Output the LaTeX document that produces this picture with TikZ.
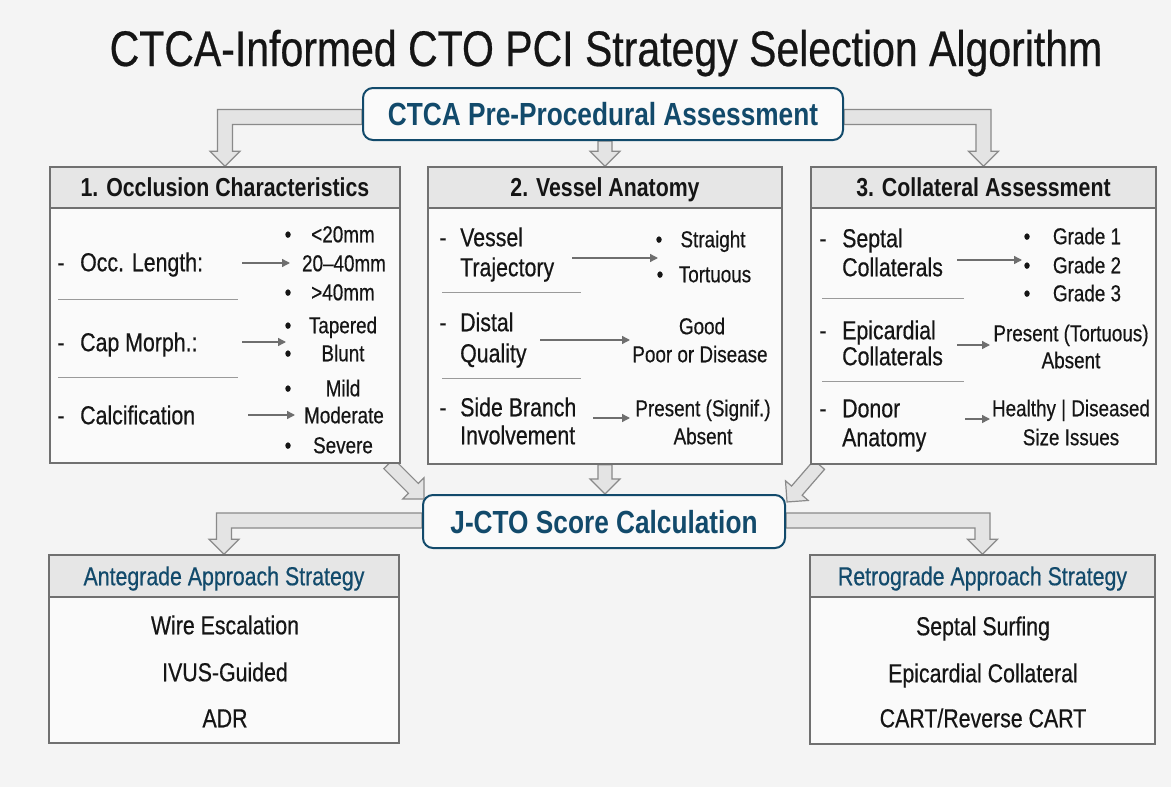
\documentclass[tikz,border=0pt]{standalone}
\usepackage{fontspec}
\setmainfont{Liberation Sans}[FakeStretch=0.82, UprightFeatures={FakeBold=0.5}]
\usetikzlibrary{calc,arrows.meta}
\definecolor{bgc}{HTML}{F4F4F4}
\definecolor{boxfill}{HTML}{FAFAFA}
\definecolor{hdrfill}{HTML}{E6E6E6}
\definecolor{boxline}{HTML}{707070}
\definecolor{navy}{HTML}{124A6B}
\definecolor{txt}{HTML}{151515}
\definecolor{arrfill}{HTML}{E4E4E4}
\definecolor{arrline}{HTML}{8A8A8A}
\definecolor{arrgray}{HTML}{6E6E6E}
\definecolor{sepc}{HTML}{9A9A9A}
\pgfdeclarelayer{background}
\pgfdeclarelayer{arrows}
\pgfsetlayers{background,arrows,main}
\tikzset{
  fat/.style={fill=arrfill, draw=arrline, line width=1.2pt, line join=miter},
  panel/.style={draw=boxline, fill=boxfill, line width=1.5pt, inner sep=0pt},
  hdr/.style={draw=boxline, fill=hdrfill, line width=1.5pt, inner sep=0pt, text=txt,
     font=\bfseries\fontsize{26}{30}\selectfont, text height=18.5pt, text depth=0pt},
  bhdr/.style={draw=boxline, fill=hdrfill, line width=1.5pt, inner sep=0pt, text=navy,
     font=\fontsize{26}{30}\selectfont, text height=18.5pt, text depth=0pt},
  bluebox/.style={draw=navy, fill=boxfill, line width=2pt, rounded corners=10pt, inner sep=0pt,
     text=navy, font=\bfseries\fontsize{32}{36}\selectfont, text height=23pt, text depth=0pt},
  lab/.style={font=\fontsize{26}{30}\selectfont, text height=18.5pt, text depth=0pt,
     inner sep=0pt, anchor=west, text=txt},
  dsh/.style={font=\fontsize{26}{30}\selectfont, text height=18.5pt, text depth=0pt,
     inner sep=0pt, text=txt},
  itm/.style={font=\fontsize{23}{28}\selectfont, text height=16.5pt, text depth=0pt,
     inner sep=0pt, text=txt},
  big/.style={font=\fontsize{26}{30}\selectfont, text height=18.5pt, text depth=0pt,
     inner sep=0pt, text=txt},
  inarr/.style={draw=arrgray, line width=1.4pt, -{Triangle[length=8pt,width=8pt]}},
  sepl/.style={draw=sepc, line width=1pt}
}
\newcommand\Larrow[4]{%
 \path[fat] let \p1=(#1), \p2=(#2) in
 (\x1,{\y1-(#4)*1pt+7.5pt}) -- ({\x2+(#3)*7.5pt},{\y1-(#4)*1pt+7.5pt})
 -- ({\x2+(#3)*7.5pt},{\y2+15pt}) -- ({\x2+(#3)*15pt},{\y2+15pt}) -- (\x2,\y2)
 -- ({\x2-(#3)*15pt},{\y2+15pt}) -- ({\x2-(#3)*7.5pt},{\y2+15pt})
 -- ({\x2-(#3)*7.5pt},{\y1-(#4)*1pt-7.5pt}) -- (\x1,{\y1-(#4)*1pt-7.5pt}) -- cycle;}
\newcommand\Sarrow[2]{%
 \path[fat] let \p1=(#1), \p2=(#2), \n1={atan2(\y2-\y1,\x2-\x1)},
   \n2={veclen(\x2-\x1,\y2-\y1)} in
 [shift={(\p1)}, rotate=\n1] (0pt,-7pt) -- ({\n2*1pt-15pt},-7pt) -- ({\n2*1pt-15pt},-15pt)
 -- ({\n2*1pt},0pt) -- ({\n2*1pt-15pt},15pt) -- ({\n2*1pt-15pt},7pt) -- (0pt,7pt) -- cycle;}
\begin{document}
\begin{tikzpicture}[x=1pt,y=-1pt]
\begin{pgfonlayer}{background}
\fill[bgc] (0,0) rectangle (1171,787);
\end{pgfonlayer}
\useasboundingbox (0,0) rectangle (1171,787);

% title
\node[inner sep=0pt, text=txt, font=\fontsize{50}{56}\selectfont, text height=36pt, text depth=0pt]
  (title) at (606,48) {CTCA-Informed CTO PCI Strategy Selection Algorithm};

% main boxes
\node[bluebox, minimum width=480pt, minimum height=52pt] (ctca) at (603,114) {CTCA Pre-Procedural Assessment};
\node[panel, minimum width=350pt, minimum height=296pt] (occ) at (225,315) {};
\node[hdr, minimum width=350pt, minimum height=41pt, anchor=north] (occh) at (occ.north) {1. Occlusion Characteristics};
\node[panel, minimum width=354pt, minimum height=297pt] (ves) at (605,315.5) {};
\node[hdr, minimum width=354pt, minimum height=41pt, anchor=north] (vesh) at (ves.north) {2. Vessel Anatomy};
\node[panel, minimum width=345pt, minimum height=297pt] (col) at (983.5,315.5) {};
\node[hdr, minimum width=345pt, minimum height=41pt, anchor=north] (colh) at (col.north) {3. Collateral Assessment};
\node[bluebox, minimum width=362pt, minimum height=53pt] (jcto) at (604,521.5) {J-CTO Score Calculation};
\node[panel, minimum width=350pt, minimum height=188pt] (ante) at (224,649) {};
\node[bhdr, minimum width=350pt, minimum height=42pt, anchor=north] (anteh) at (ante.north) {Antegrade Approach Strategy};
\node[panel, minimum width=345pt, minimum height=189pt] (retro) at (982.5,649.5) {};
\node[bhdr, minimum width=345pt, minimum height=42pt, anchor=north] (retroh) at (retro.north) {Retrograde Approach Strategy};

% fat arrows
\coordinate (d1s) at ($(occ.south east)+(-12,0)$);
\coordinate (d1e) at ($(jcto.north west)+(2,5)$);
\coordinate (d2s) at ($(col.south west)+(9,0)$);
\coordinate (d2e) at ($(jcto.north east)+(1,8)$);
\begin{pgfonlayer}{arrows}
\Larrow{ctca.west}{occh.north}{-1}{3}
\Sarrow{ctca.south -| vesh.north}{vesh.north}
\Larrow{ctca.east}{colh.north}{1}{3}
\Sarrow{ves.south}{jcto.north -| ves.south}
\Sarrow{d1s}{d1e}
\Sarrow{d2s}{d2e}
\Larrow{jcto.west}{anteh.north}{-1}{-1}
\Larrow{jcto.east}{retroh.north}{1}{-1}
\end{pgfonlayer}

% ---- box 1 content
\node[dsh] (o1d) at (61,262) {-};
\node[lab] (o1) at (80,262) {Occ. Length:};
\node[dsh] (o2d) at (61,342) {-};
\node[lab] (o2) at (80,342) {Cap Morph.:};
\node[dsh] (o3d) at (61,415) {-};
\node[lab] (o3) at (80,415) {Calcification};
\draw[sepl] (58,299) -- (238,299);
\draw[sepl] (58,377) -- (238,377);
\coordinate (oa1s) at (242,263); \coordinate (oa1e) at (290,263);
\coordinate (oa2s) at (242,342); \coordinate (oa2e) at (286,342);
\coordinate (oa3s) at (248,415); \coordinate (oa3e) at (295,415);
\draw[inarr] (oa1s) -- (oa1e);
\draw[inarr] (oa2s) -- (oa2e);
\draw[inarr] (oa3s) -- (oa3e);
\node[itm] (ob1) at (288,234) {•};
\node[itm] (ob3) at (288,292) {•};
\node[itm] (ob4) at (288,325) {•};
\node[itm] (ob5) at (288,353) {•};
\node[itm] (ob6) at (288,388) {•};
\node[itm] (ob8) at (288,445) {•};
\node[itm] (oi1) at (343,234) {<20mm};
\node[itm] (oi2) at (344,263) {20–40mm};
\node[itm] (oi3) at (343,292) {>40mm};
\node[itm] (oi4) at (343,325) {Tapered};
\node[itm] (oi5) at (343,353) {Blunt};
\node[itm] (oi6) at (343,388) {Mild};
\node[itm] (oi7) at (344,415) {Moderate};
\node[itm] (oi8) at (343,445) {Severe};

% ---- box 2 content
\node[dsh] (v1d) at (443,237) {-};
\node[lab] (v1a) at (460,237) {Vessel};
\node[lab] (v1b) at (460,267) {Trajectory};
\node[dsh] (v2d) at (443,322) {-};
\node[lab] (v2a) at (460,322) {Distal};
\node[lab] (v2b) at (460,353) {Quality};
\node[dsh] (v3d) at (443,407) {-};
\node[lab] (v3a) at (460,407) {Side Branch};
\node[lab] (v3b) at (460,435) {Involvement};
\draw[sepl] (442,292) -- (581,292);
\draw[sepl] (442,378) -- (581,378);
\coordinate (va1s) at (572,258); \coordinate (va1e) at (658,258);
\coordinate (va2s) at (540,340); \coordinate (va2e) at (630,340);
\coordinate (va3s) at (593,418); \coordinate (va3e) at (630,418);
\draw[inarr] (va1s) -- (va1e);
\draw[inarr] (va2s) -- (va2e);
\draw[inarr] (va3s) -- (va3e);
\node[itm] (vb1) at (659,239) {•};
\node[itm] (vb2) at (660,274) {•};
\node[itm] (vi1) at (713,239) {Straight};
\node[itm] (vi2) at (715,274) {Tortuous};
\node[itm] (vi3) at (702,326) {Good};
\node[itm] (vi4) at (700,354) {Poor or Disease};
\node[itm] (vi5) at (703,408) {Present (Signif.)};
\node[itm] (vi6) at (703,436) {Absent};

% ---- box 3 content
\node[dsh] (c1d) at (823,238) {-};
\node[lab] (c1a) at (842,238) {Septal};
\node[lab] (c1b) at (842,267) {Collaterals};
\node[dsh] (c2d) at (823,330) {-};
\node[lab] (c2a) at (842,330) {Epicardial};
\node[lab] (c2b) at (842,356) {Collaterals};
\node[dsh] (c3d) at (823,408) {-};
\node[lab] (c3a) at (842,408) {Donor};
\node[lab] (c3b) at (842,437) {Anatomy};
\draw[sepl] (822,298) -- (964,298);
\draw[sepl] (822,381) -- (964,381);
\coordinate (ca1s) at (957,260); \coordinate (ca1e) at (1022,260);
\coordinate (ca2s) at (957,345); \coordinate (ca2e) at (990,345);
\coordinate (ca3s) at (965,419); \coordinate (ca3e) at (990,419);
\draw[inarr] (ca1s) -- (ca1e);
\draw[inarr] (ca2s) -- (ca2e);
\draw[inarr] (ca3s) -- (ca3e);
\node[itm] (cb1) at (1027,236) {•};
\node[itm] (cb2) at (1027,265) {•};
\node[itm] (cb3) at (1027,293) {•};
\node[itm] (ci1) at (1087,236) {Grade 1};
\node[itm] (ci2) at (1087,265) {Grade 2};
\node[itm] (ci3) at (1087,293) {Grade 3};
\node[itm] (ci4) at (1071,333) {Present (Tortuous)};
\node[itm] (ci5) at (1071,360) {Absent};
\node[itm] (ci6) at (1071,408) {Healthy | Diseased};
\node[itm] (ci7) at (1071,437) {Size Issues};

% ---- bottom boxes
\node[big] (a1) at (225,625) {Wire Escalation};
\node[big] (a2) at (225,672) {IVUS-Guided};
\node[big] (a3) at (225,718) {ADR};
\node[big] (r1) at (983,626) {Septal Surfing};
\node[big] (r2) at (983,673) {Epicardial Collateral};
\node[big] (r3) at (983,718) {CART/Reverse CART};
\end{tikzpicture}
\end{document}
